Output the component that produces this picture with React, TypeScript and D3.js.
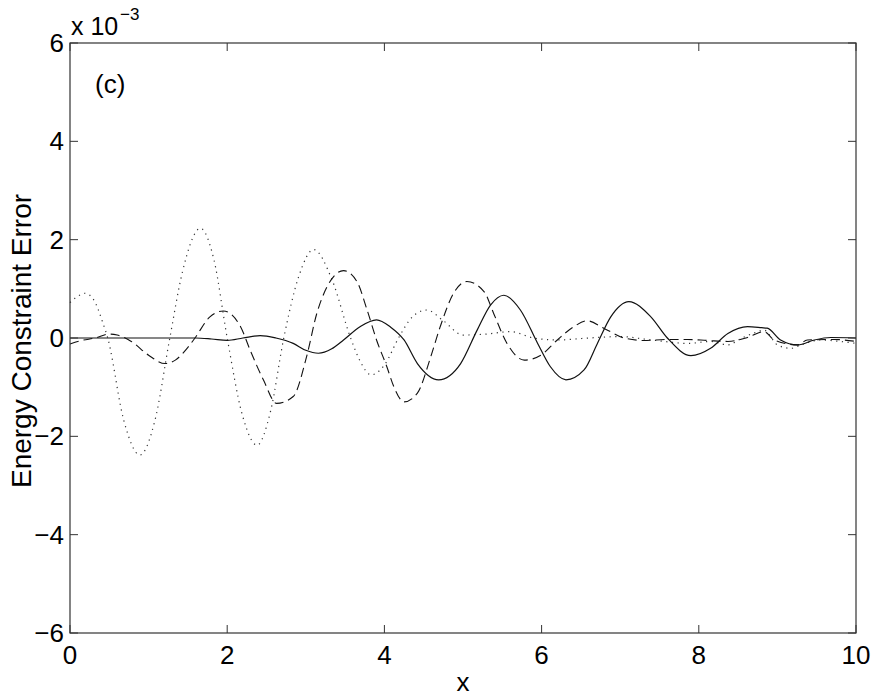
import React from 'react';
import * as d3 from 'd3';

// values are in units of 1e-3
const solidX = [0, 0.8, 1.6, 1.8, 2.0, 2.2, 2.42, 2.62, 2.84, 3.0, 3.16, 3.33, 3.48, 3.69, 3.9, 4.08, 4.25, 4.42, 4.69, 4.97, 5.18, 5.35, 5.52, 5.73, 5.95, 6.11, 6.31, 6.54, 6.71, 6.88, 7.11, 7.39, 7.6, 7.9, 8.15, 8.37, 8.62, 8.8, 8.87, 9.04, 9.26, 9.47, 9.68, 10];
const solidY = [0, 0, 0, -0.02, -0.05, 0, 0.05, 0, -0.11, -0.25, -0.31, -0.22, -0.04, 0.23, 0.37, 0.22, -0.04, -0.52, -0.85, -0.52, 0.16, 0.67, 0.87, 0.57, -0.11, -0.58, -0.85, -0.65, -0.11, 0.43, 0.74, 0.43, 0, -0.36, -0.21, 0.09, 0.23, 0.21, 0.2, -0.04, -0.14, -0.04, 0.01, 0];

const dashedX = [0, 0.15, 0.32, 0.5, 0.6, 0.78, 1.0, 1.21, 1.34, 1.5, 1.59, 1.78, 1.95, 2.17, 2.29, 2.46, 2.63, 2.84, 3.01, 3.14, 3.27, 3.48, 3.65, 3.78, 3.9, 4.03, 4.12, 4.25, 4.42, 4.59, 4.71, 4.88, 5.05, 5.27, 5.39, 5.56, 5.78, 5.99, 6.2, 6.41, 6.58, 6.79, 7.05, 7.3, 7.6, 7.86, 8.11, 8.37, 8.62, 8.83, 8.96, 9.26, 9.38, 9.72, 10];
const dashedY = [-0.12, -0.05, 0, 0.08, 0.06, -0.07, -0.35, -0.52, -0.45, -0.19, 0, 0.43, 0.55, 0.23, -0.24, -0.85, -1.33, -1.19, -0.38, 0.5, 1.04, 1.37, 1.15, 0.57, -0.04, -0.58, -0.99, -1.3, -1.12, -0.38, 0.23, 0.91, 1.15, 0.94, 0.5, -0.11, -0.45, -0.35, -0.04, 0.23, 0.35, 0.2, 0, -0.05, -0.03, -0.03, -0.05, -0.07, 0.01, 0.13, -0.04, -0.14, -0.04, -0.03, -0.07];

const dottedX = [0, 0.1, 0.19, 0.3, 0.42, 0.48, 0.685, 0.89, 1.08, 1.27, 1.43, 1.66, 1.83, 2.0, 2.19, 2.38, 2.55, 2.72, 2.91, 3.1, 3.33, 3.57, 3.7, 3.83, 4.0, 4.18, 4.35, 4.54, 4.75, 5.0, 5.3, 5.6, 5.9, 6.2, 6.6, 7.0, 7.3, 7.56, 7.86, 8.15, 8.37, 8.55, 8.7, 8.83, 9.0, 9.17, 9.3, 9.55, 9.8, 10];
const dottedY = [0.72, 0.85, 0.91, 0.78, 0.3, 0, -1.68, -2.38, -1.68, 0, 1.34, 2.23, 1.6, 0, -1.55, -2.18, -1.5, 0, 1.25, 1.8, 1.2, 0, -0.5, -0.75, -0.55, 0, 0.42, 0.57, 0.35, 0.06, 0.08, 0.13, 0, -0.04, 0, 0.03, -0.02, -0.07, -0.11, -0.07, -0.14, 0, 0.1, 0.16, -0.14, -0.21, -0.14, -0.04, -0.07, -0.11];

const xTicks = [0, 2, 4, 6, 8, 10];
const yTicks = [-6, -4, -2, 0, 2, 4, 6];

const W = 879;
const H = 699;
const m = { left: 70, right: 23, top: 43, bottom: 66 };

export default function App() {
  const x = d3.scaleLinear().domain([0, 10]).range([m.left, W - m.right]);
  const y = d3.scaleLinear().domain([-6, 6]).range([H - m.bottom, m.top]);

  const line = d3.line<[number, number]>()
    .x(d => x(d[0]))
    .y(d => y(d[1]))
    .curve(d3.curveMonotoneX);

  const zip = (xs: number[], ys: number[]) => xs.map((v, i) => [v, ys[i]] as [number, number]);

  const font = '"Liberation Sans", Arial, Helvetica, sans-serif';
  const axisColor = '#333';
  const tick = 8;
  const fs = 26;

  return (
    <svg width={W} height={H} style={{ position: 'absolute', left: 0, top: 0, background: '#fff' }} fontFamily={font}>
      <rect x={0} y={0} width={W} height={H} fill="#fff" />
      <path d={line(zip(dottedX, dottedY)) || ''} fill="none" stroke="#333" strokeWidth={1.2} strokeDasharray="1.2 4.5" />
      <path d={line(zip(dashedX, dashedY)) || ''} fill="none" stroke="#111" strokeWidth={1.1} strokeDasharray="9 5" />
      <path d={line(zip(solidX, solidY)) || ''} fill="none" stroke="#111" strokeWidth={1.2} />

      <rect x={x(0)} y={y(6)} width={x(10) - x(0)} height={y(-6) - y(6)} fill="none" stroke={axisColor} strokeWidth={1.2} />

      {xTicks.map(t => (
        <g key={'x' + t}>
          <line x1={x(t)} x2={x(t)} y1={y(-6)} y2={y(-6) - tick} stroke={axisColor} strokeWidth={1} />
          <line x1={x(t)} x2={x(t)} y1={y(6)} y2={y(6) + tick} stroke={axisColor} strokeWidth={1} />
          <text x={x(t)} y={y(-6) + 31} textAnchor="middle" fontSize={fs} fill="#000">{t}</text>
        </g>
      ))}
      {yTicks.map(t => (
        <g key={'y' + t}>
          <line x1={x(0)} x2={x(0) + tick} y1={y(t)} y2={y(t)} stroke={axisColor} strokeWidth={1} />
          <line x1={x(10)} x2={x(10) - tick} y1={y(t)} y2={y(t)} stroke={axisColor} strokeWidth={1} />
          <text x={x(0) - 6} y={y(t) + 9} textAnchor="end" fontSize={fs} fill="#000">{t < 0 ? '\u2212' + Math.abs(t) : t}</text>
        </g>
      ))}

      <text x={71} y={35} fontSize={25} fill="#000">x 10</text>
      <text x={120} y={20} fontSize={17} fill="#000">{'\u22123'}</text>

      <text x={95} y={93} fontSize={fs} fill="#000">(c)</text>

      <text x={(x(0) + x(10)) / 2} y={691} textAnchor="middle" fontSize={fs} fill="#000">x</text>
      <text transform={`translate(31,341) rotate(-90)`} textAnchor="middle" fontSize={28} fill="#000">Energy Constraint Error</text>
    </svg>
  );
}
